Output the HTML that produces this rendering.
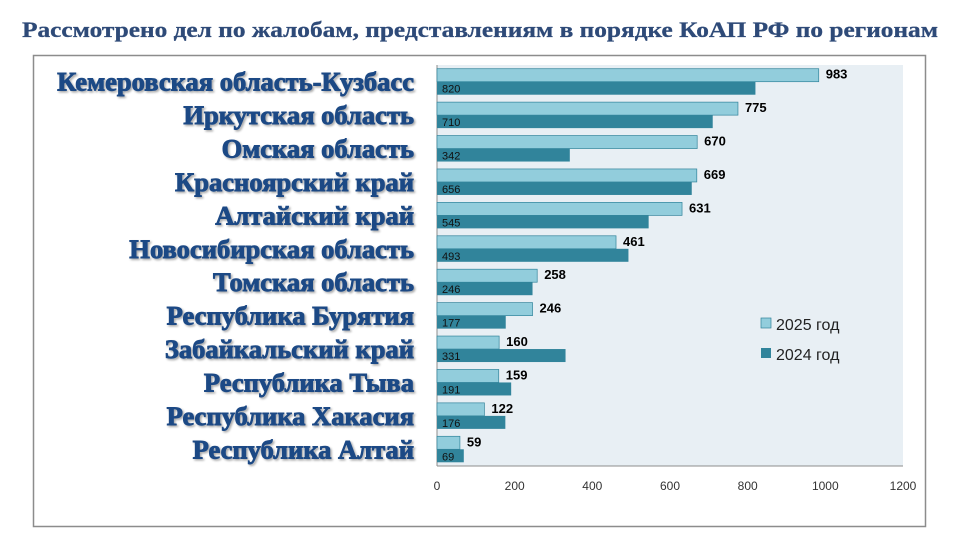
<!DOCTYPE html>
<html><head><meta charset="utf-8"><style>
body{margin:0;width:960px;height:540px;background:#fff;overflow:hidden}
</style></head><body>
<svg width="960" height="540" xmlns="http://www.w3.org/2000/svg">
<defs><filter id="sh" x="-5%" y="-20%" width="110%" height="140%"><feDropShadow dx="1.5" dy="1.5" stdDeviation="1" flood-color="#000" flood-opacity="0.35"/></filter></defs>
<text x="22" y="37" textLength="916" lengthAdjust="spacingAndGlyphs" font-family="Liberation Serif,serif" font-weight="bold" font-size="22" fill="#2e4a78" stroke="#2e4a78" stroke-width="0.3">Рассмотрено дел по жалобам, представлениям в порядке КоАП РФ по регионам</text>
<rect x="33.5" y="55.5" width="892" height="471" fill="none" stroke="#8c8c8c" stroke-width="1.5"/>
<rect x="437" y="65" width="466" height="401" fill="#e8eff4"/>
<line x1="437" y1="65" x2="437" y2="466" stroke="#8c8c8c"/>
<line x1="437" y1="466" x2="903" y2="466" stroke="#8c8c8c"/>
<g id="bars" font-family="Liberation Sans,sans-serif"></g>
<g font-family="Liberation Sans,DejaVu Sans,sans-serif" font-size="12" fill="#333" text-anchor="middle">
<text x="437" y="490">0</text><text x="514.7" y="490">200</text><text x="592.3" y="490">400</text><text x="670" y="490">600</text><text x="747.7" y="490">800</text><text x="825.3" y="490">1000</text><text x="903" y="490">1200</text>
</g>
<rect x="761" y="318" width="10" height="10" fill="#92cddc" stroke="#31849b" stroke-width="0.7"/>
<text x="776" y="330" font-family="Liberation Sans,sans-serif" font-size="16" fill="#222">2025 год</text>
<rect x="761" y="348" width="10" height="10" fill="#31849b"/>
<text x="776" y="360" font-family="Liberation Sans,sans-serif" font-size="16" fill="#222">2024 год</text>
<g id="labels" font-family="Liberation Serif,serif" font-weight="bold" font-size="26" fill="#1f4a85" stroke="#1f4a85" stroke-width="0.9" text-anchor="end" filter="url(#sh)"></g>
</svg>
<script>
var d=[["Кемеровская область-Кузбасс",983,820],["Иркутская область",775,710],["Омская область",670,342],["Красноярский край",669,656],["Алтайский край",631,545],["Новосибирская область",461,493],["Томская область",258,246],["Республика Бурятия",246,177],["Забайкальский край",160,331],["Республика Тыва",159,191],["Республика Хакасия",122,176],["Республика Алтай",59,69]];
var ns="http://www.w3.org/2000/svg",b=document.getElementById("bars"),l=document.getElementById("labels");
function el(p,t,a,tx){var e=document.createElementNS(ns,t);for(var k in a)e.setAttribute(k,a[k]);if(tx)e.textContent=tx;p.appendChild(e);return e;}
var s=466/1200,p=401/12;
d.forEach(function(r,i){var c=65+p*i+p/2;
el(b,"rect",{x:437,y:c-13,width:r[1]*s,height:13,fill:"#92cddc",stroke:"#31849b","stroke-width":0.7});
el(b,"rect",{x:437,y:c,width:r[2]*s,height:13,fill:"#31849b"});
el(b,"text",{x:437+r[1]*s+7,y:c-3,"font-size":13,"font-weight":"bold",fill:"#000"},String(r[1]));
el(b,"text",{x:442,y:c+11,"font-size":11,fill:"#111"},String(r[2]));
el(l,"text",{x:414,y:c+9},r[0]);
});
Array.prototype.forEach.call(l.childNodes,function(t){var w=t.getComputedTextLength();t.setAttribute("textLength",w*1.02);t.setAttribute("lengthAdjust","spacingAndGlyphs");});
</script>
</body></html>
